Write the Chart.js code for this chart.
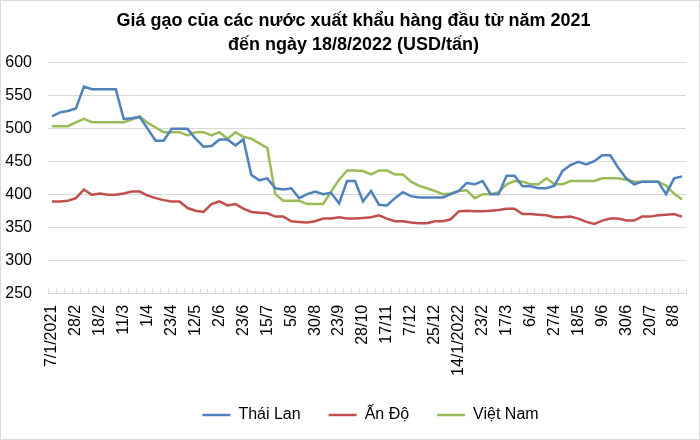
<!DOCTYPE html>
<html>
<head>
<meta charset="utf-8">
<script src="https://cdn.jsdelivr.net/npm/chart.js@4"></script>
<style>
  body { margin: 0; background: #fff; }
  #wrap { width: 700px; height: 440px; box-sizing: border-box; border: 1px solid #d9d9d9; }
</style>
</head>
<body>
<div id="wrap"><canvas id="myChart"></canvas></div>
<script>
// nhan tren truc x (cu 3 tuan mot nhan)
var tickLabels = ['7/1/2021', '28/2', '18/2', '11/3', '1/4', '23/4', '12/5', '2/6', '23/6', '15/7',
    '5/8', '30/8', '23/9', '28/10', '17/11', '7/12', '25/12', '14/1/2022', '23/2', '17/3',
    '6/4', '27/4', '18/5', '9/6', '30/6', '20/7', '8/8'];

var thaiLan = [519, 525, 527, 531, 564, 560, 560, 560, 560, 515, 516, 518, 500, 482, 482, 500, 500, 500, 485, 473,
    474, 484, 484, 475, 484, 430, 422, 425, 410, 408, 410, 395, 401, 405, 401, 403, 387, 421, 421, 390,
    406, 385, 384, 395, 404, 398, 396, 396, 396, 396, 401, 406, 418, 416, 421, 401, 401, 429, 429, 413,
    413, 410, 410, 414, 436, 445, 450, 446, 451, 460, 460, 441, 425, 416, 420, 420, 420, 401, 425, 428];

var anDo = [390, 390, 391, 395, 408, 400, 402, 400, 400, 402, 405, 405, 399, 395, 392, 390, 390, 380, 376, 374,
    386, 390, 384, 386, 379, 374, 373, 372, 367, 367, 360, 359, 358, 360, 364, 364, 366, 364, 364, 365,
    366, 369, 364, 360, 360, 358, 357, 357, 360, 360, 363, 375, 376, 375, 375, 376, 377, 379, 379, 371,
    371, 370, 369, 366, 366, 367, 364, 359, 356, 361, 364, 364, 361, 361, 367, 367, 369, 370, 371, 367];

var vietNam = [504, 504, 504, 510, 515, 510, 510, 510, 510, 510, 514, 519, 509, 502, 495, 495, 495, 490, 495, 495,
    490, 495, 485, 495, 488, 485, 478, 471, 401, 391, 391, 391, 386, 386, 386, 405, 423, 437, 437, 436,
    431, 437, 437, 431, 431, 420, 414, 410, 406, 401, 402, 406, 407, 395, 401, 401, 404, 416, 421, 420,
    416, 416, 425, 416, 416, 421, 421, 421, 421, 425, 425, 425, 423, 420, 420, 420, 420, 414, 402, 393];

// 80 moc, chi moc thu 3 co nhan
var categories = thaiLan.map(function (v, i) {
    return i % 3 === 0 ? tickLabels[i / 3] : '';
});

var FONT = "'Liberation Sans', Arial, sans-serif";

// vach chia nho phia trong truc x
const innerTicks = {
    id: 'innerTicks',
    beforeDatasetsDraw(chart) {
        const c = chart.ctx, x = chart.scales.x, bottom = chart.chartArea.bottom;
        const step = x.getPixelForValue(1) - x.getPixelForValue(0);
        c.save();
        c.strokeStyle = '#d9d9d9';
        c.lineWidth = 1;
        c.beginPath();
        for (let i = 0; i <= categories.length; i++) {
            const px = Math.round(x.getPixelForValue(i) - step / 2) + 0.5;
            c.moveTo(px, bottom - 5);
            c.lineTo(px, bottom);
        }
        c.stroke();
        c.restore();
    }
};

// tieu de va chu thich hoi lech sang phai nhu ban goc
const shiftBlocks = {
    id: 'shiftBlocks',
    afterLayout(chart) {
        chart.legend.left += 25;
        chart.legend.right += 25;
        chart.titleBlock.left += 8;
        chart.titleBlock.right += 8;
    }
};

const ctx = document.getElementById('myChart').getContext('2d');
const myChart = new Chart(ctx, {
    type: 'line',
    data: {
        labels: categories,
        datasets: [
            { label: 'Thái Lan', data: thaiLan, borderColor: '#4F81BD', backgroundColor: '#4F81BD', borderWidth: 2.5 },
            { label: 'Ấn Độ', data: anDo, borderColor: '#C0504D', backgroundColor: '#C0504D', borderWidth: 2.5 },
            { label: 'Việt Nam', data: vietNam, borderColor: '#9BBB59', backgroundColor: '#9BBB59', borderWidth: 2.5 }
        ]
    },
    options: {
        responsive: true,
        maintainAspectRatio: false,
        animation: false,
        elements: {
            line: { tension: 0 },
            point: { radius: 0 }
        },
        layout: { padding: { left: 4, right: 13, top: 4, bottom: 6 } },
        scales: {
            x: {
                offset: true,
                afterFit: function (scale) { scale.paddingLeft = 0; scale.paddingRight = 0; },
                grid: { display: false },
                border: { color: '#d9d9d9' },
                ticks: {
                    autoSkip: false,
                    minRotation: 90,
                    maxRotation: 90,
                    color: '#000',
                    font: { family: FONT, size: 16 },
                    padding: 3
                }
            },
            y: {
                min: 250,
                max: 600,
                afterFit: function (scale) { scale.width = 43; },
                grid: { color: '#d9d9d9', drawTicks: false },
                border: { display: false },
                ticks: {
                    stepSize: 50,
                    color: '#000',
                    font: { family: FONT, size: 16 },
                    padding: 16
                }
            }
        },
        plugins: {
            title: {
                display: true,
                text: ['Giá gạo của các nước xuất khẩu hàng đầu từ năm 2021', 'đến ngày 18/8/2022 (USD/tấn)'],
                color: '#000',
                font: { family: FONT, size: 18, weight: 'bold', lineHeight: 1.33 },
                padding: { top: 4, bottom: 6 }
            },
            legend: {
                position: 'bottom',
                labels: {
                    usePointStyle: true,
                    pointStyle: 'line',
                    pointStyleWidth: 28,
                    color: '#000',
                    font: { family: FONT, size: 16 },
                    padding: 28
                }
            },
            tooltip: { enabled: false }
        }
    },
    plugins: [innerTicks, shiftBlocks]
});
</script>
</body>
</html>
